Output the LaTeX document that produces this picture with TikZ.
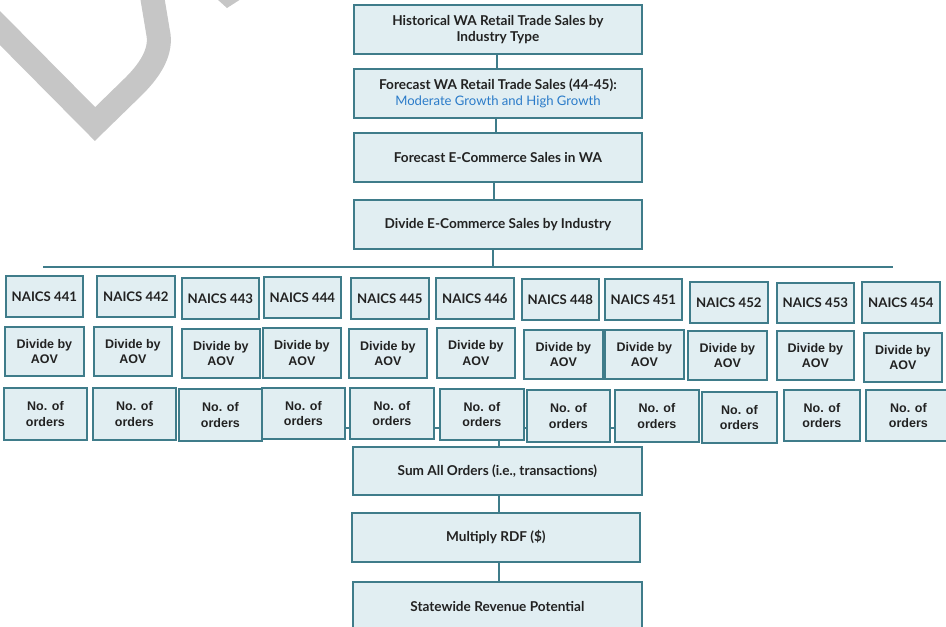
\documentclass[tikz,border=0pt]{standalone}
\usepackage{fontspec}
\setmainfont{Lato}
\newfontfamily\arialish{Liberation Sans}
\definecolor{boxfill}{HTML}{E1EEF2}
\definecolor{boxline}{HTML}{3F7C8A}
\definecolor{inkdark}{HTML}{222222}
\definecolor{linkblue}{HTML}{2A7BC9}
\definecolor{markgray}{HTML}{C6C6C6}
\tikzset{
  box/.style={draw=boxline, fill=boxfill, line width=1.8pt, inner sep=0pt,
    anchor=north west, align=center, text=inkdark},
  mainbox/.style={box, font=\bfseries\fontsize{13.6}{16}\selectfont},
  codebox/.style={box, font=\bfseries\fontsize{13.2}{15}\selectfont},
  stepbox/.style={box, font=\arialish\bfseries\fontsize{12.5}{15.5}\selectfont},
  link/.style={draw=boxline, line width=1.6pt},
}
% place a box by its top-left and bottom-right corners
\newcommand\boxat[7]{%
  \node[#1, minimum width={#5pt-#3pt}, minimum height={#6pt-#4pt}] (#2) at (#3,#4) {#7};}
\begin{document}
\begin{tikzpicture}[x=1pt,y=-1pt]
\useasboundingbox (0,0) rectangle (946,627);

% faded watermark strokes
\draw[markgray, line width=24pt, line join=miter]
  (-10,18) -- (95,124) -- (134,86) .. controls (152,68) and (162,50) .. (158,32) -- (151,-10);
\fill[markgray] (217,-1) -- (227,8) -- (241,-1) -- cycle;

% main chain
\boxat{mainbox}{hist}{353}{4}{641}{53}{Historical WA Retail Trade Sales by\\Industry Type}
\boxat{mainbox}{fcst}{353}{68}{641}{117}{Forecast WA Retail Trade Sales (44-45):\\{\mdseries\fontsize{13.1}{16}\selectfont\color{linkblue}Moderate Growth and High Growth}}
\boxat{mainbox}{ecom}{353}{132}{641}{181}{Forecast E-Commerce Sales in WA}
\boxat{mainbox}{split}{353}{199}{641}{248}{Divide E-Commerce Sales by Industry}

% distribution bar
\coordinate (barL) at (43,267);
\coordinate (barR) at (893,267);
\coordinate (barM) at (493,267);

% order collector line behind the order boxes
\coordinate (colL) at (300,428);
\coordinate (colR) at (640,428);
\draw[link] (colL) -- (colR);

% industry codes
\boxat{codebox}{n441}{5}{275}{82}{316}{NAICS 441}
\boxat{codebox}{n442}{96}{275}{174}{316}{NAICS 442}
\boxat{codebox}{n443}{181}{277}{258}{318}{NAICS 443}
\boxat{codebox}{n444}{263}{276}{340}{317}{NAICS 444}
\boxat{codebox}{n445}{350}{277}{428}{318}{NAICS 445}
\boxat{codebox}{n446}{435}{277}{513}{318}{NAICS 446}
\boxat{codebox}{n448}{521}{278}{598}{319}{NAICS 448}
\boxat{codebox}{n451}{604}{278}{681}{319}{NAICS 451}
\boxat{codebox}{n452}{689}{281}{767}{322}{NAICS 452}
\boxat{codebox}{n453}{776}{282}{853}{322}{NAICS 453}
\boxat{codebox}{n454}{861}{281}{939}{322}{NAICS 454}

% divide by AOV
\boxat{stepbox}{d441}{4}{326}{83}{375}{Divide by\\AOV}
\boxat{stepbox}{d442}{93}{326}{171}{375}{Divide by\\AOV}
\boxat{stepbox}{d443}{181}{328}{259}{377}{Divide by\\AOV}
\boxat{stepbox}{d444}{262}{327}{340}{377}{Divide by\\AOV}
\boxat{stepbox}{d445}{348}{328}{426}{377}{Divide by\\AOV}
\boxat{stepbox}{d446}{436}{327}{514}{377}{Divide by\\AOV}
\boxat{stepbox}{d448}{523}{329}{602}{378}{Divide by\\AOV}
\boxat{stepbox}{d451}{604}{329}{683}{378}{Divide by\\AOV}
\boxat{stepbox}{d452}{687}{330}{766}{379}{Divide by\\AOV}
\boxat{stepbox}{d453}{776}{330}{853}{379}{Divide by\\AOV}
\boxat{stepbox}{d454}{863}{332}{941}{381}{Divide by\\AOV}

% number of orders
\boxat{stepbox}{o441}{3}{387}{86}{439}{No. of\\orders}
\boxat{stepbox}{o442}{92}{387}{175}{439}{No. of\\orders}
\boxat{stepbox}{o443}{178}{388}{261}{440}{No. of\\orders}
\boxat{stepbox}{o444}{261}{387}{344}{438}{No. of\\orders}
\boxat{stepbox}{o445}{349}{387}{433}{438}{No. of\\orders}
\boxat{stepbox}{o446}{439}{388}{523}{439}{No. of\\orders}
\boxat{stepbox}{o448}{526}{389}{609}{441}{No. of\\orders}
\boxat{stepbox}{o451}{614}{389}{698}{441}{No. of\\orders}
\boxat{stepbox}{o452}{701}{391}{776}{442}{No. of\\orders}
\boxat{stepbox}{o453}{783}{389}{859}{440}{No. of\\orders}
\boxat{stepbox}{o454}{865}{389}{950}{440}{No. of\\orders}

% totals
\boxat{mainbox}{sum}{352}{446}{641}{494}{Sum All Orders (i.e., transactions)}
\boxat{mainbox}{rdf}{351}{512}{639}{561}{Multiply RDF (\$)}
\boxat{mainbox}{rev}{352}{581}{641}{660}{\raisebox{29pt}{Statewide Revenue Potential}}

% connectors
\draw[link] (hist.south -| 497,0) -- (fcst.north -| 497,0);
\draw[link] (fcst.south -| 496,0) -- (ecom.north -| 496,0);
\draw[link] (ecom.south -| 494,0) -- (split.north -| 494,0);
\draw[link] (split.south -| barM) -- (barM);
\draw[link] (barL) -- (barR);
\draw[link] (o446.south -| 499,0) -- (sum.north -| 499,0);
\draw[link] (sum.south -| 499,0) -- (rdf.north -| 499,0);
\draw[link] (rdf.south -| 499,0) -- (rev.north -| 499,0);
\end{tikzpicture}
\end{document}
